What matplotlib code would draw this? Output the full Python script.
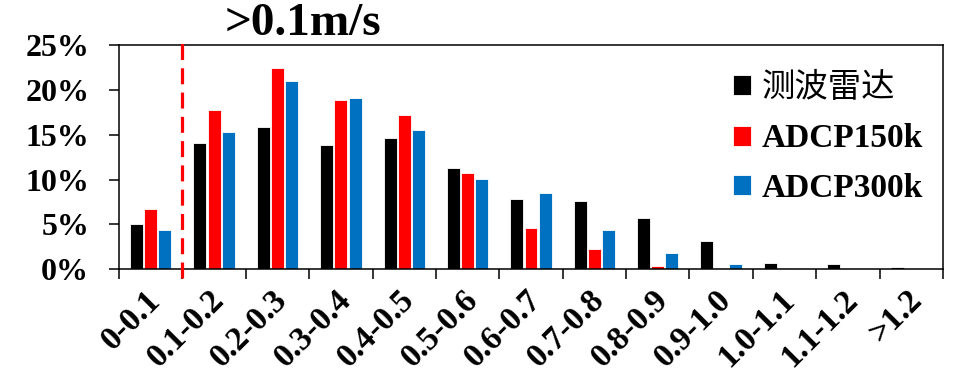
import matplotlib
matplotlib.use("Agg")
import matplotlib.pyplot as plt
import matplotlib.transforms as mtransforms
import numpy as np
from matplotlib.ticker import FuncFormatter, FixedLocator

categories = ["0-0.1", "0.1-0.2", "0.2-0.3", "0.3-0.4", "0.4-0.5", "0.5-0.6",
              "0.6-0.7", "0.7-0.8", "0.8-0.9", "0.9-1.0", "1.0-1.1", "1.1-1.2", ">1.2"]
radar = [5.0, 14.05, 15.9, 13.9, 14.6, 11.3, 7.8, 7.6, 5.75, 3.1, 0.7, 0.6, 0.3]
adcp150 = [6.7, 17.7, 22.4, 18.9, 17.2, 10.7, 4.65, 2.25, 0.35, 0.15, 0.15, 0.0, 0.0]
adcp300 = [4.35, 15.35, 21.0, 19.05, 15.5, 10.1, 8.55, 4.4, 1.8, 0.6, 0.15, 0.0, 0.0]
series_names = ["测波雷达", "ADCP150k", "ADCP300k"]
series_colors = ["#000000", "#FF0000", "#0070C0"]
yticks = [0, 5, 10, 15, 20, 25]
title_text = ">0.1m/s"

SERIF = ["Liberation Serif", "DejaVu Serif"]

fig = plt.figure(figsize=(9.57, 3.84), dpi=100)
ax = fig.add_axes([119/957, 1-269.3/384, (943-119)/957, (269.3-45)/384])

x = np.arange(len(categories))
width = 0.205
offset = 0.224
for i, (vals, name, col) in enumerate(zip([radar, adcp150, adcp300], series_names, series_colors)):
    ax.bar(x + (i-1)*offset, vals, width=width, color=col, edgecolor="white",
           linewidth=0.6, label=name, zorder=2)

ax.set_xlim(-0.5, len(categories)-0.5)
ax.set_ylim(0, 25)

ax.set_yticks(yticks)
ax.yaxis.set_major_formatter(FuncFormatter(lambda v, p: f"{int(v)}%"))
ax.tick_params(axis="y", direction="out", length=7.5, width=1.1, pad=14)
for lab in ax.get_yticklabels():
    lab.set_fontfamily(SERIF)
    lab.set_fontweight("bold")
    lab.set_fontsize(23)

ax.set_xticks(x)
ax.set_xticklabels(categories, rotation=45, ha="right", va="top", rotation_mode="anchor",
                   fontfamily=SERIF, fontweight="bold", fontsize=24)
ax.tick_params(axis="x", which="major", length=0, pad=10)
shift = mtransforms.ScaledTranslation(-4/72, -1/72, fig.dpi_scale_trans)
for lab in ax.get_xticklabels():
    lab.set_transform(lab.get_transform() + shift)
ax.xaxis.set_minor_locator(FixedLocator(np.arange(-0.5, len(categories), 1.0)))
ax.tick_params(axis="x", which="minor", direction="out", length=7.5, width=1.1)

for s in ax.spines.values():
    s.set_linewidth(1.1)

# threshold dashed line
ax.plot([0.5, 0.5], [-1.0, 25.8], color="#FF0000", lw=2.3,
        linestyle=(0, (5, 2.6)), clip_on=False, zorder=3)

fig.text(303/957, 1-35/384, title_text, ha="center", va="baseline",
         fontfamily=SERIF, fontweight="bold", fontsize=34)

leg = ax.legend(loc="upper left", bbox_to_anchor=(733/957, 1-70/384),
                bbox_transform=fig.transFigure, frameon=False,
                prop={"family": SERIF, "weight": "bold", "size": 24},
                handlelength=0.55, handleheight=0.55, handletextpad=0.3,
                labelspacing=0.55, borderpad=0, borderaxespad=0)
t0 = leg.get_texts()[0]
t0.set_fontfamily(["Noto Sans CJK SC", "DejaVu Sans"])
t0.set_fontweight("normal")
t0.set_fontsize(24)

fig.savefig("out.png", dpi=100)
